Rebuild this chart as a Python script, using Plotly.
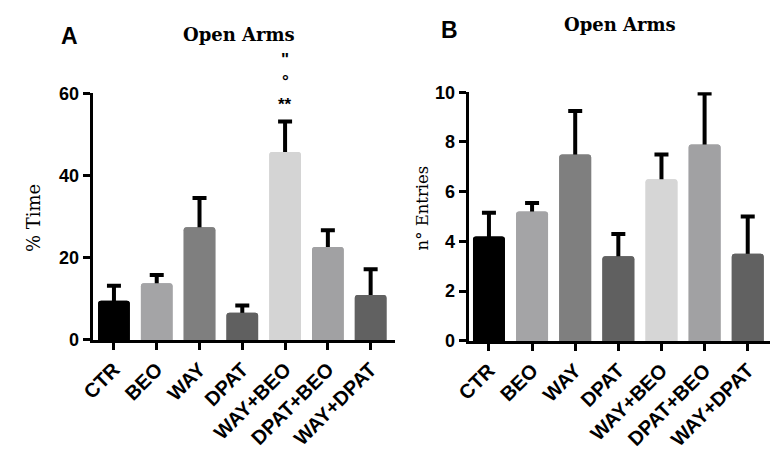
import plotly.graph_objects as go

categories = ["CTR", "BEO", "WAY", "DPAT", "WAY+BEO", "DPAT+BEO", "WAY+DPAT"]
time_pct = [9.5, 13.8, 27.4, 6.6, 45.7, 22.6, 10.9]
time_err = [3.7, 2.0, 7.1, 1.8, 7.4, 4.1, 6.3]
entries = [4.2, 5.2, 7.5, 3.4, 6.5, 7.9, 3.5]
entries_err = [0.95, 0.35, 1.75, 0.9, 1.0, 2.05, 1.5]
colors_a = ["#000000", "#a4a4a6", "#7f7f7f", "#606060", "#d4d4d4", "#a1a1a3", "#616161"]
colors_b = ["#000000", "#a4a4a6", "#7f7f7f", "#606060", "#d6d6d6", "#a1a1a3", "#616161"]

W, H = 779, 458
xs = list(range(len(categories)))

fig = go.Figure()

def add_panel(vals, errs, cols, xa, ya):
    # error bars drawn behind, then identical bars on top hide the lower half
    fig.add_trace(go.Bar(x=xs, y=vals, xaxis=xa, yaxis=ya, width=0.74,
                         marker=dict(color=cols, line=dict(width=0), cornerradius=3),
                         error_y=dict(type="data", array=errs, visible=True,
                                      color="black", thickness=4, width=7),
                         showlegend=False, hoverinfo="skip"))
    fig.add_trace(go.Bar(x=xs, y=vals, xaxis=xa, yaxis=ya, width=0.74,
                         marker=dict(color=cols, line=dict(width=0), cornerradius=3),
                         showlegend=False))

add_panel(time_pct, time_err, colors_a, "x", "y")
add_panel(entries, entries_err, colors_b, "x2", "y2")

xtickfont = dict(family="Liberation Sans, Arial", size=20, color="black", weight="bold")
ytickfont = dict(family="Liberation Sans, Arial", size=18, color="black", weight="bold")
xcommon = dict(tickvals=xs, ticktext=categories, tickangle=-45, ticks="outside",
               ticklen=7, tickwidth=3, tickcolor="black", showline=True, linewidth=3,
               linecolor="black", showgrid=False, zeroline=False, tickfont=xtickfont)
ycommon = dict(ticks="outside", ticklen=7, tickwidth=3, tickcolor="black",
               showline=True, linewidth=3, linecolor="black", showgrid=False,
               zeroline=False, tickfont=ytickfont)

fig.update_layout(
    width=W, height=H, margin=dict(l=0, r=0, t=0, b=0),
    paper_bgcolor="white", plot_bgcolor="white", barmode="overlay",
    xaxis=dict(domain=[80 / W, 388 / W], range=[-0.5, 6.57], anchor="y", **xcommon),
    yaxis=dict(domain=[(H - 345) / H, (H - 87) / H], range=[0, 60], dtick=20,
               anchor="x", **ycommon),
    xaxis2=dict(domain=[463 / W, 770 / W], range=[-0.47, 6.52], anchor="y2", **xcommon),
    yaxis2=dict(domain=[(H - 346) / H, (H - 86) / H], range=[0, 10], dtick=2,
                anchor="x2", **ycommon),
)

serif = "DejaVu Serif, serif"
sans_bold = dict(family="Liberation Sans, Arial", color="black", weight="bold")

def pa(text, px, py, font, angle=0):
    fig.add_annotation(text=text, xref="paper", yref="paper", x=px / W, y=1 - py / H,
                       xanchor="center", yanchor="middle", showarrow=False,
                       font=font, textangle=angle)

pa("A", 57, 27, dict(size=23, **sans_bold))
pa("B", 443, 21, dict(size=23, **sans_bold))
pa("Open Arms", 229, 26, dict(family=serif, size=18, color="black", weight="bold"))
pa("Open Arms", 617, 15, dict(family=serif, size=18, color="black", weight="bold"))
pa("% Time", 20, 218, dict(family=serif, size=18, color="black"), -90)
pa("n° Entries", 416, 207, dict(family=serif, size=16.5, color="black"), -90)

# significance markers above WAY+BEO in panel A
top = time_pct[4] + time_err[4]
for txt, shift in [("**", 6), ("°", 29), ('"', 51)]:
    fig.add_annotation(text=txt, xref="x", yref="y", x=4, y=top, yshift=shift,
                       yanchor="bottom", showarrow=False,
                       font=dict(size=17, **sans_bold))

fig.write_html("out.html", config={"displayModeBar": False},
               post_script="document.body.style.margin='0';")
